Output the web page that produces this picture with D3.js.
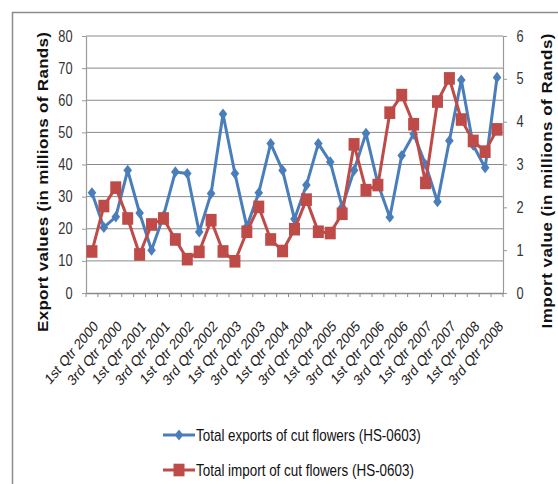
<!DOCTYPE html>
<html><head><meta charset="utf-8">
<script src="https://cdn.jsdelivr.net/npm/d3@7/dist/d3.min.js"></script>
<style>body{margin:0;background:#fff}svg{display:block}</style>
</head><body>
<svg id="c" width="558" height="484"></svg>
<script>
const categories = [
  "1st Qtr 2000","2nd Qtr 2000","3rd Qtr 2000","4th Qtr 2000",
  "1st Qtr 2001","2nd Qtr 2001","3rd Qtr 2001","4th Qtr 2001",
  "1st Qtr 2002","2nd Qtr 2002","3rd Qtr 2002","4th Qtr 2002",
  "1st Qtr 2003","2nd Qtr 2003","3rd Qtr 2003","4th Qtr 2003",
  "1st Qtr 2004","2nd Qtr 2004","3rd Qtr 2004","4th Qtr 2004",
  "1st Qtr 2005","2nd Qtr 2005","3rd Qtr 2005","4th Qtr 2005",
  "1st Qtr 2006","2nd Qtr 2006","3rd Qtr 2006","4th Qtr 2006",
  "1st Qtr 2007","2nd Qtr 2007","3rd Qtr 2007","4th Qtr 2007",
  "1st Qtr 2008","2nd Qtr 2008","3rd Qtr 2008"
];
const exportValues = [31.2, 20.4, 23.7, 38.2, 24.9, 13.3, 24, 37.7, 37.2, 19.0,
  31.0, 55.7, 37.2, 20.6, 31.2, 46.5, 38.2, 23, 33.6, 46.5,
  40.8, 26.8, 38.2, 49.7, 34, 23.6, 42.8, 49.5, 40, 28.4,
  47.4, 66.3, 46, 39.0, 67.1];
const importValues = [0.97, 2.03, 2.46, 1.74, 0.90, 1.60, 1.74, 1.25, 0.79, 0.96,
  1.70, 0.97, 0.74, 1.43, 2.01, 1.25, 0.98, 1.49, 2.18, 1.43,
  1.40, 1.85, 3.47, 2.40, 2.52, 4.21, 4.62, 3.94, 2.57, 4.47,
  5.01, 4.05, 3.55, 3.30, 3.82];
const leftTicks = [0, 10, 20, 30, 40, 50, 60, 70, 80];
const rightTicks = [0, 1, 2, 3, 4, 5, 6];
const seriesNames = ["Total exports of cut flowers (HS-0603)", "Total import of cut flowers (HS-0603)"];
const leftTitle = "Export values  (in millions of Rands)";
const rightTitle = "Import value (in millions of Rands)";

const BLUE = "#4a7ebb", RED = "#be4b48", GRID = "#8a8a8a", AXIS = "#9a9a9a";
const SX = 0.84;
const FONT = "'Liberation Sans', Arial, sans-serif";
const svg = d3.select("#c");

svg.append("rect").attr("x", 12.5).attr("y", 12.5).attr("width", 700).attr("height", 700)
  .attr("fill", "none").attr("stroke", "#8c8c8c").attr("stroke-width", 1.5);

const L = 86, R = 503, T = 36, B = 293;
const x = d3.scaleBand().domain(categories).range([L, R]).padding(0);
const yL = d3.scaleLinear().domain([0, 80]).range([B, T]);
const yR = d3.scaleLinear().domain([0, 6]).range([B, T]);
const cx = c => x(c) + x.bandwidth() / 2;

svg.append("g").selectAll("line").data(leftTicks.filter(d => d > 0)).join("line")
  .attr("x1", L).attr("x2", R).attr("y1", d => yL(d)).attr("y2", d => yL(d))
  .attr("stroke", GRID).attr("stroke-width", 1);

const gl = svg.append("g").attr("transform", `translate(${L},0)`)
  .call(d3.axisLeft(yL).tickValues(leftTicks).tickFormat(d3.format("d")).tickSize(4).tickSizeOuter(0).tickPadding(0));
gl.select(".domain").attr("stroke", AXIS).attr("stroke-width", 1.2);
gl.selectAll(".tick line").attr("stroke", AXIS);
gl.selectAll(".tick text").attr("x", null)
  .attr("transform", `translate(-13.5,0) scale(${SX - 0.04},1)`)
  .attr("font-family", FONT).attr("font-size", 16).attr("fill", "#333");

const gr = svg.append("g").attr("transform", `translate(${R},0)`)
  .call(d3.axisRight(yR).tickValues(rightTicks).tickFormat(d3.format("d")).tickSize(4).tickSizeOuter(0).tickPadding(0));
gr.select(".domain").attr("stroke", AXIS).attr("stroke-width", 1.2);
gr.selectAll(".tick line").attr("stroke", AXIS);
gr.selectAll(".tick text").attr("x", null)
  .attr("transform", `translate(13.5,0) scale(${SX - 0.04},1)`)
  .attr("font-family", FONT).attr("font-size", 16).attr("fill", "#333");

const gb = svg.append("g").attr("transform", `translate(0,${B})`)
  .call(d3.axisBottom(x).tickValues([]).tickSizeOuter(0));
gb.select(".domain").attr("stroke", "#8a8a8a").attr("stroke-width", 1.6);
const bounds = categories.map(c => x(c)).concat([x.range()[1]]);
gb.selectAll("line.bt").data(bounds).join("line").attr("class", "bt")
  .attr("x1", d => d).attr("x2", d => d).attr("y1", 0).attr("y2", 4)
  .attr("stroke", "#8a8a8a");

svg.append("g").selectAll("text").data(categories.filter((c, i) => i % 2 === 0)).join("text")
  .attr("transform", c => `translate(${cx(c) + 7},${B + 34}) scale(${SX},1) rotate(-45)`)
  .attr("text-anchor", "end").attr("font-family", FONT).attr("font-size", 15)
  .attr("fill", "#222").text(c => c);

svg.append("text").attr("transform", `translate(48,182) scale(${SX},1) rotate(-90)`)
  .attr("text-anchor", "middle").attr("font-family", FONT).attr("font-weight", "bold")
  .attr("font-size", 17).attr("fill", "#111")
  .attr("textLength", 300).attr("lengthAdjust", "spacing").text(leftTitle);
svg.append("text").attr("transform", `translate(552,181) scale(${SX},1) rotate(-90)`)
  .attr("text-anchor", "middle").attr("font-family", FONT).attr("font-weight", "bold")
  .attr("font-size", 17).attr("fill", "#111")
  .attr("textLength", 295).attr("lengthAdjust", "spacing").text(rightTitle);

const diamond = "M0,-5.6L4.3,0L0,5.6L-4.3,0Z";

svg.append("path").datum(exportValues)
  .attr("d", d3.line().x((d, i) => cx(categories[i])).y(d => yL(d)))
  .attr("fill", "none").attr("stroke", BLUE).attr("stroke-width", 3).attr("stroke-linejoin", "round");
svg.append("g").selectAll("path").data(exportValues).join("path")
  .attr("transform", (d, i) => `translate(${cx(categories[i])},${yL(d)})`)
  .attr("d", diamond).attr("fill", BLUE);

svg.append("path").datum(importValues)
  .attr("d", d3.line().x((d, i) => cx(categories[i])).y(d => yR(d)))
  .attr("fill", "none").attr("stroke", RED).attr("stroke-width", 3).attr("stroke-linejoin", "round");
svg.append("g").selectAll("rect").data(importValues).join("rect")
  .attr("x", (d, i) => cx(categories[i]) - 5.5).attr("y", d => yR(d) - 6.3)
  .attr("width", 11).attr("height", 12.6).attr("fill", RED);

const leg = svg.append("g");
const legY = [435, 470];
[BLUE, RED].forEach((col, k) => {
  leg.append("line").attr("x1", 163).attr("x2", 195).attr("y1", legY[k]).attr("y2", legY[k])
    .attr("stroke", col).attr("stroke-width", 3);
  if (k === 0) leg.append("path").attr("transform", `translate(179,${legY[k]})`).attr("d", diamond).attr("fill", col);
  else leg.append("rect").attr("x", 173.5).attr("y", legY[k] - 6.3).attr("width", 11).attr("height", 12.6).attr("fill", col);
  leg.append("text").attr("transform", `translate(196,${legY[k] + 5.6}) scale(${SX},1)`)
    .attr("font-family", FONT).attr("font-size", 16).attr("fill", "#111").text(seriesNames[k]);
});
</script>
</body></html>
